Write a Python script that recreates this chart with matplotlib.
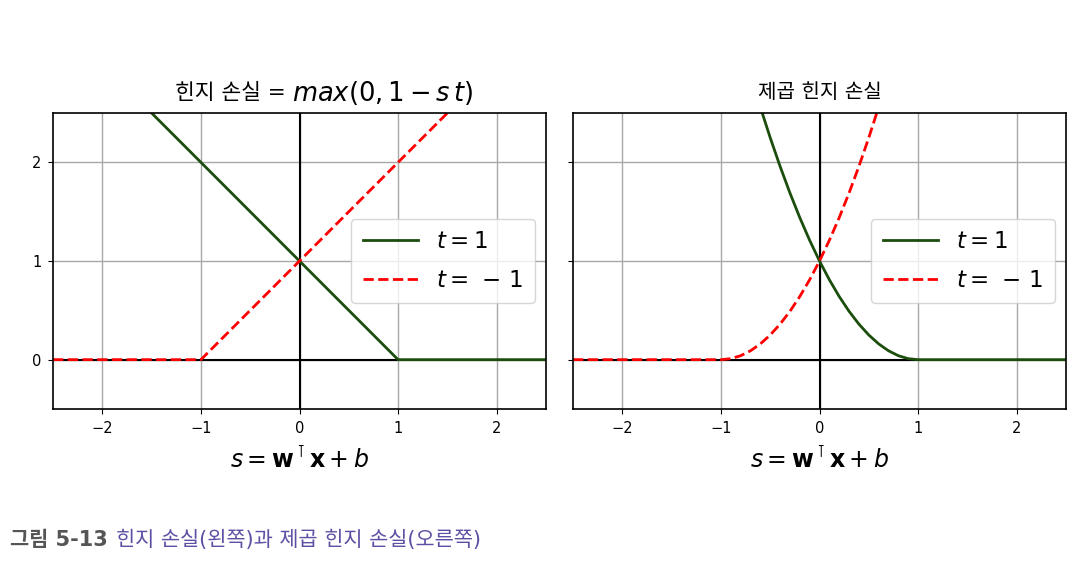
import numpy as np
import matplotlib
matplotlib.use("Agg")
import matplotlib.pyplot as plt

plt.rcParams['font.family'] = ['DejaVu Sans', 'Noto Sans CJK KR']

# hinge loss: piecewise linear, knots
hinge_s = [-2.5, -1.0, 1.0, 2.5]
hinge_pos = [3.5, 2.0, 0.0, 0.0]      # t = 1
hinge_neg = [0.0, 0.0, 2.0, 3.5]      # t = -1

sq_s = [-2.5, -1.0, -0.9, -0.8, -0.7, -0.6, -0.5, -0.4, -0.3, -0.2, -0.1,
        0.0, 0.1, 0.2, 0.3, 0.4, 0.5, 0.6, 0.7, 0.8, 0.9, 1.0, 2.5]
sq_pos = [12.25, 4.0, 3.61, 3.24, 2.89, 2.56, 2.25, 1.96, 1.69, 1.44, 1.21,
          1.0, 0.81, 0.64, 0.49, 0.36, 0.25, 0.16, 0.09, 0.04, 0.01, 0.0, 0.0]
sq_neg_s = [-v for v in sq_s[::-1]]
sq_neg = sq_pos[::-1]

title_left_kr = "힌지 손실 = "
title_left_math = r"$max(0, 1 - s\,t)$"
title_right = "제곱 힌지 손실"
xlabel = r"$s = \mathbf{w}^\intercal \mathbf{x} + b$"
legend_labels = [r"$t = 1$", r"$t = \,-\,1$"]
caption_num = "그림 5-13"
caption_text = "힌지 손실(왼쪽)과 제곱 힌지 손실(오른쪽)"

W, H = 1092, 562
fig = plt.figure(figsize=(W / 100, H / 100), dpi=100)
ax1 = fig.add_axes([53 / W, 153 / H, 493 / W, 296 / H])
ax2 = fig.add_axes([573 / W, 153 / H, 493 / W, 296 / H], sharey=ax1)

panels = [
    (ax1, hinge_s, hinge_pos, hinge_s, hinge_neg),
    (ax2, sq_s, sq_pos, sq_neg_s, sq_neg),
]

for ax, xp, yp, xn, yn in panels:
    ax.grid(True, color="#a8a8a8", linewidth=1)
    ax.axhline(y=0, color="k", linewidth=1.5)
    ax.axvline(x=0, color="k", linewidth=1.5)
    ax.plot(xp, yp, "-", color="#1b4d0c", linewidth=2, label=legend_labels[0])
    ax.plot(xn, yn, "r--", linewidth=2, label=legend_labels[1])
    ax.set_xlim(-2.5, 2.5)
    ax.set_ylim(-0.5, 2.5)
    ax.set_xticks([-2, -1, 0, 1, 2])
    ax.set_yticks([0, 1, 2])
    ax.tick_params(labelsize=10.5, pad=5)
    ax.set_xlabel(xlabel, fontsize=17, labelpad=8)
    ax.legend(loc="center right", fontsize=16.5, handlelength=2.4,
              borderaxespad=0.5, labelspacing=0.7, borderpad=0.5)
    for sp in ax.spines.values():
        sp.set_linewidth(1.2)

plt.setp(ax2.get_yticklabels(), visible=False)

ty = 1 - 93 / H
fig.text(820 / W, ty, title_right, fontsize=14.5, va="center", ha="center")

# left title: Korean part and math part side by side, centred over ax1
tk = fig.text(0, ty, title_left_kr, fontsize=15.5, va="center", ha="left")
tm = fig.text(0, ty, title_left_math, fontsize=18.5, va="center", ha="left")
t1 = fig.text(10 / W, 1 - 540 / H, caption_num, fontsize=15, fontweight="bold",
              color="#555555", va="center", ha="left")
fig.canvas.draw()
wk = tk.get_window_extent().width
wm = tm.get_window_extent().width
cx = 324
x0 = cx - (wk + wm) / 2
tk.set_x(x0 / W)
tm.set_x((x0 + wk) / W)

bb = t1.get_window_extent()
fig.text((bb.x1 + 8) / W, 1 - 540 / H, caption_text, fontsize=15,
         color="#5d4fa3", va="center", ha="left")

fig.savefig("out.png", dpi=100)
